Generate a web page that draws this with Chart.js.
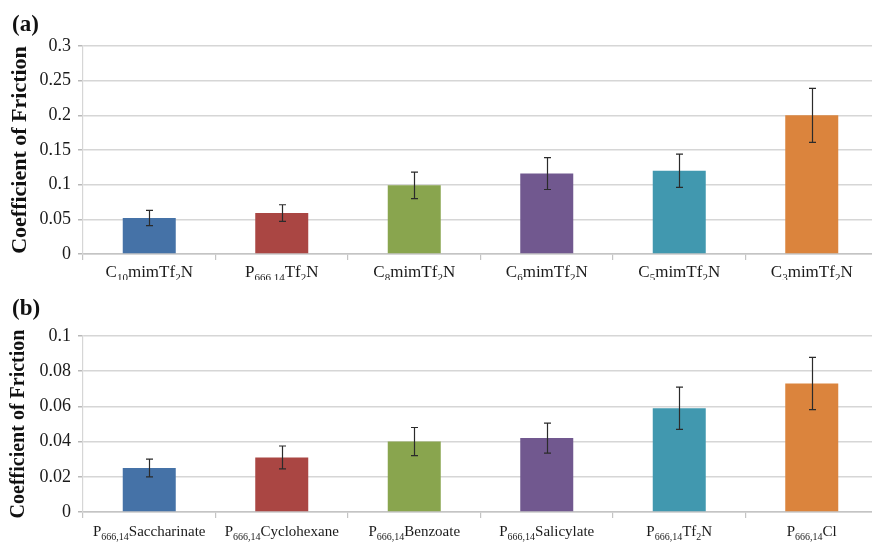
<!DOCTYPE html>
<html lang="en">
<head>
  <meta charset="UTF-8">
  <title>Coefficient of Friction</title>
  <style>
    html, body { margin: 0; padding: 0; background: #fff; overflow: hidden; }
    body { width: 872px; height: 543px; position: relative; font-family: "Liberation Serif", "DejaVu Serif", serif; }
    .panel { position: absolute; left: 0; width: 880px; }
    #panelA { top: 0; height: 280px; }
    #panelB { top: 280px; height: 263px; }
    .tag { position: absolute; left: 12px; font-weight: bold; font-size: 23px; line-height: 1; color: #111; z-index: 2; }
  </style>
</head>
<body>
  <div class="tag" style="top: 12px;">(a)</div>
  <div class="tag" style="top: 296px;">(b)</div>
  <div class="panel" id="panelA"><canvas id="chartA"></canvas></div>
  <div class="panel" id="panelB"><canvas id="chartB"></canvas></div>

  <script src="https://cdn.jsdelivr.net/npm/chart.js"></script>
  <script>
    // (a) imidazolium / phosphonium Tf2N series
    const catsA = ['C_{10}mimTf_{2}N', 'P_{666,14}Tf_{2}N', 'C_{8}mimTf_{2}N', 'C_{6}mimTf_{2}N', 'C_{5}mimTf_{2}N', 'C_{3}mimTf_{2}N'];
    const valsA = [0.052, 0.059, 0.099, 0.116, 0.120, 0.200];
    const errA  = [0.011, 0.012, 0.019, 0.023, 0.024, 0.039];
    const yTicksA = ['0', '0.05', '0.1', '0.15', '0.2', '0.25', '0.3'];

    // (b) P666,14 anion series
    const catsB = ['P_{666,14}Saccharinate', 'P_{666,14}Cyclohexane', 'P_{666,14}Benzoate', 'P_{666,14}Salicylate', 'P_{666,14}Tf_{2}N', 'P_{666,14}Cl'];
    const valsB = [0.025, 0.031, 0.040, 0.042, 0.059, 0.073];
    const errB  = [0.005, 0.0065, 0.008, 0.0085, 0.012, 0.0148];
    const yTicksB = ['0', '0.02', '0.04', '0.06', '0.08', '0.1'];

    const colours = ['#4572a7', '#aa4643', '#89a54e', '#71588f', '#4198af', '#db843d'];
    const FONT = '"Liberation Serif", "DejaVu Serif", serif';

    // 'C_{10}mim' -> [{t:'C'},{t:'10',sub:true},{t:'mim'}]
    function splitSub(lab) {
      return lab.split(/(_\{[^}]*\})/).filter(Boolean).map(s =>
        s.startsWith('_{') ? { t: s.slice(2, -1), sub: true } : { t: s, sub: false });
    }
    const plain = lab => splitSub(lab).map(p => p.t).join('');

    // x labels with subscripts, placed on the category scale
    function subLabels(labels, size, subSize, baseline) {
      return {
        id: 'subLabels',
        afterDraw(chart) {
          const ctx = chart.ctx, xs = chart.scales.x;
          ctx.save();
          ctx.fillStyle = '#1a1a1a';
          ctx.textBaseline = 'alphabetic';
          ctx.textAlign = 'left';
          labels.forEach((lab, i) => {
            const parts = splitSub(lab);
            let w = 0;
            parts.forEach(p => {
              ctx.font = (p.sub ? subSize : size) + 'px ' + FONT;
              p.w = ctx.measureText(p.t).width;
              w += p.w;
            });
            let x = xs.getPixelForTick(i) - w / 2;
            parts.forEach(p => {
              ctx.font = (p.sub ? subSize : size) + 'px ' + FONT;
              ctx.fillText(p.t, x, baseline + (p.sub ? 4 : 0));
              x += p.w;
            });
          });
          ctx.restore();
        }
      };
    }

    // error bars from the value +/- err arrays
    function errBars(vals, errs) {
      return {
        id: 'errBars',
        afterDatasetsDraw(chart) {
          const ctx = chart.ctx, ys = chart.scales.y;
          const meta = chart.getDatasetMeta(0);
          ctx.save();
          ctx.strokeStyle = '#2b2b2b';
          ctx.lineWidth = 1.2;
          meta.data.forEach((bar, i) => {
            const top = ys.getPixelForValue(vals[i] + errs[i]);
            const bot = ys.getPixelForValue(vals[i] - errs[i]);
            const x = Math.round(bar.x) + 0.5;
            ctx.beginPath();
            ctx.moveTo(x, top); ctx.lineTo(x, bot);
            ctx.moveTo(x - 3.5, top); ctx.lineTo(x + 3.5, top);
            ctx.moveTo(x - 3.5, bot); ctx.lineTo(x + 3.5, bot);
            ctx.stroke();
          });
          ctx.restore();
        }
      };
    }

    function makeChart(id, cats, vals, errs, yTicks, yMax, yStep, pad, lblSize, lblSub, lblBase, titleSize) {
      return new Chart(document.getElementById(id), {
        type: 'bar',
        data: {
          labels: cats.map(plain),
          datasets: [{
            data: vals,
            backgroundColor: colours,
            borderWidth: 0,
            categoryPercentage: 1,
            barPercentage: 0.4
          }]
        },
        options: {
          responsive: true,
          maintainAspectRatio: false,
          animation: false,
          layout: { padding: pad },
          plugins: { legend: { display: false }, tooltip: { enabled: false } },
          scales: {
            x: {
              ticks: { display: false },
              grid: { drawOnChartArea: false, drawTicks: true, tickLength: 6, color: '#c4c4c4', lineWidth: 1.2 },
              border: { display: true, color: '#c4c4c4', width: 1.5 }
            },
            y: {
              min: 0, max: yMax,
              ticks: {
                stepSize: yStep,
                padding: 7,
                color: '#1a1a1a',
                font: { family: FONT, size: 18 },
                callback: (v, i) => yTicks[i]
              },
              grid: { color: '#d6d6d6', lineWidth: 1.5, tickLength: 5, tickColor: '#b8b8b8' },
              border: { display: true, color: '#d6d6d6', width: 1.2 },
              title: {
                display: true,
                text: 'Coefficient of Friction',
                color: '#111',
                font: { family: FONT, size: titleSize, weight: 'bold' },
                padding: { top: 7, bottom: 0 }
              },
              afterFit(s) { s.width = 83; }
            }
          }
        },
        plugins: [errBars(vals, errs), subLabels(cats, lblSize, lblSub, lblBase)]
      });
    }

    makeChart('chartA', catsA, valsA, errA, yTicksA, 0.3, 0.05,
      { top: 46, right: 2, bottom: 20, left: 0 }, 17, 11, 277, 22);
    makeChart('chartB', catsB, valsB, errB, yTicksB, 0.1, 0.02,
      { top: 56, right: 2, bottom: 25, left: 0 }, 15, 10, 256, 20);
  </script>
</body>
</html>
